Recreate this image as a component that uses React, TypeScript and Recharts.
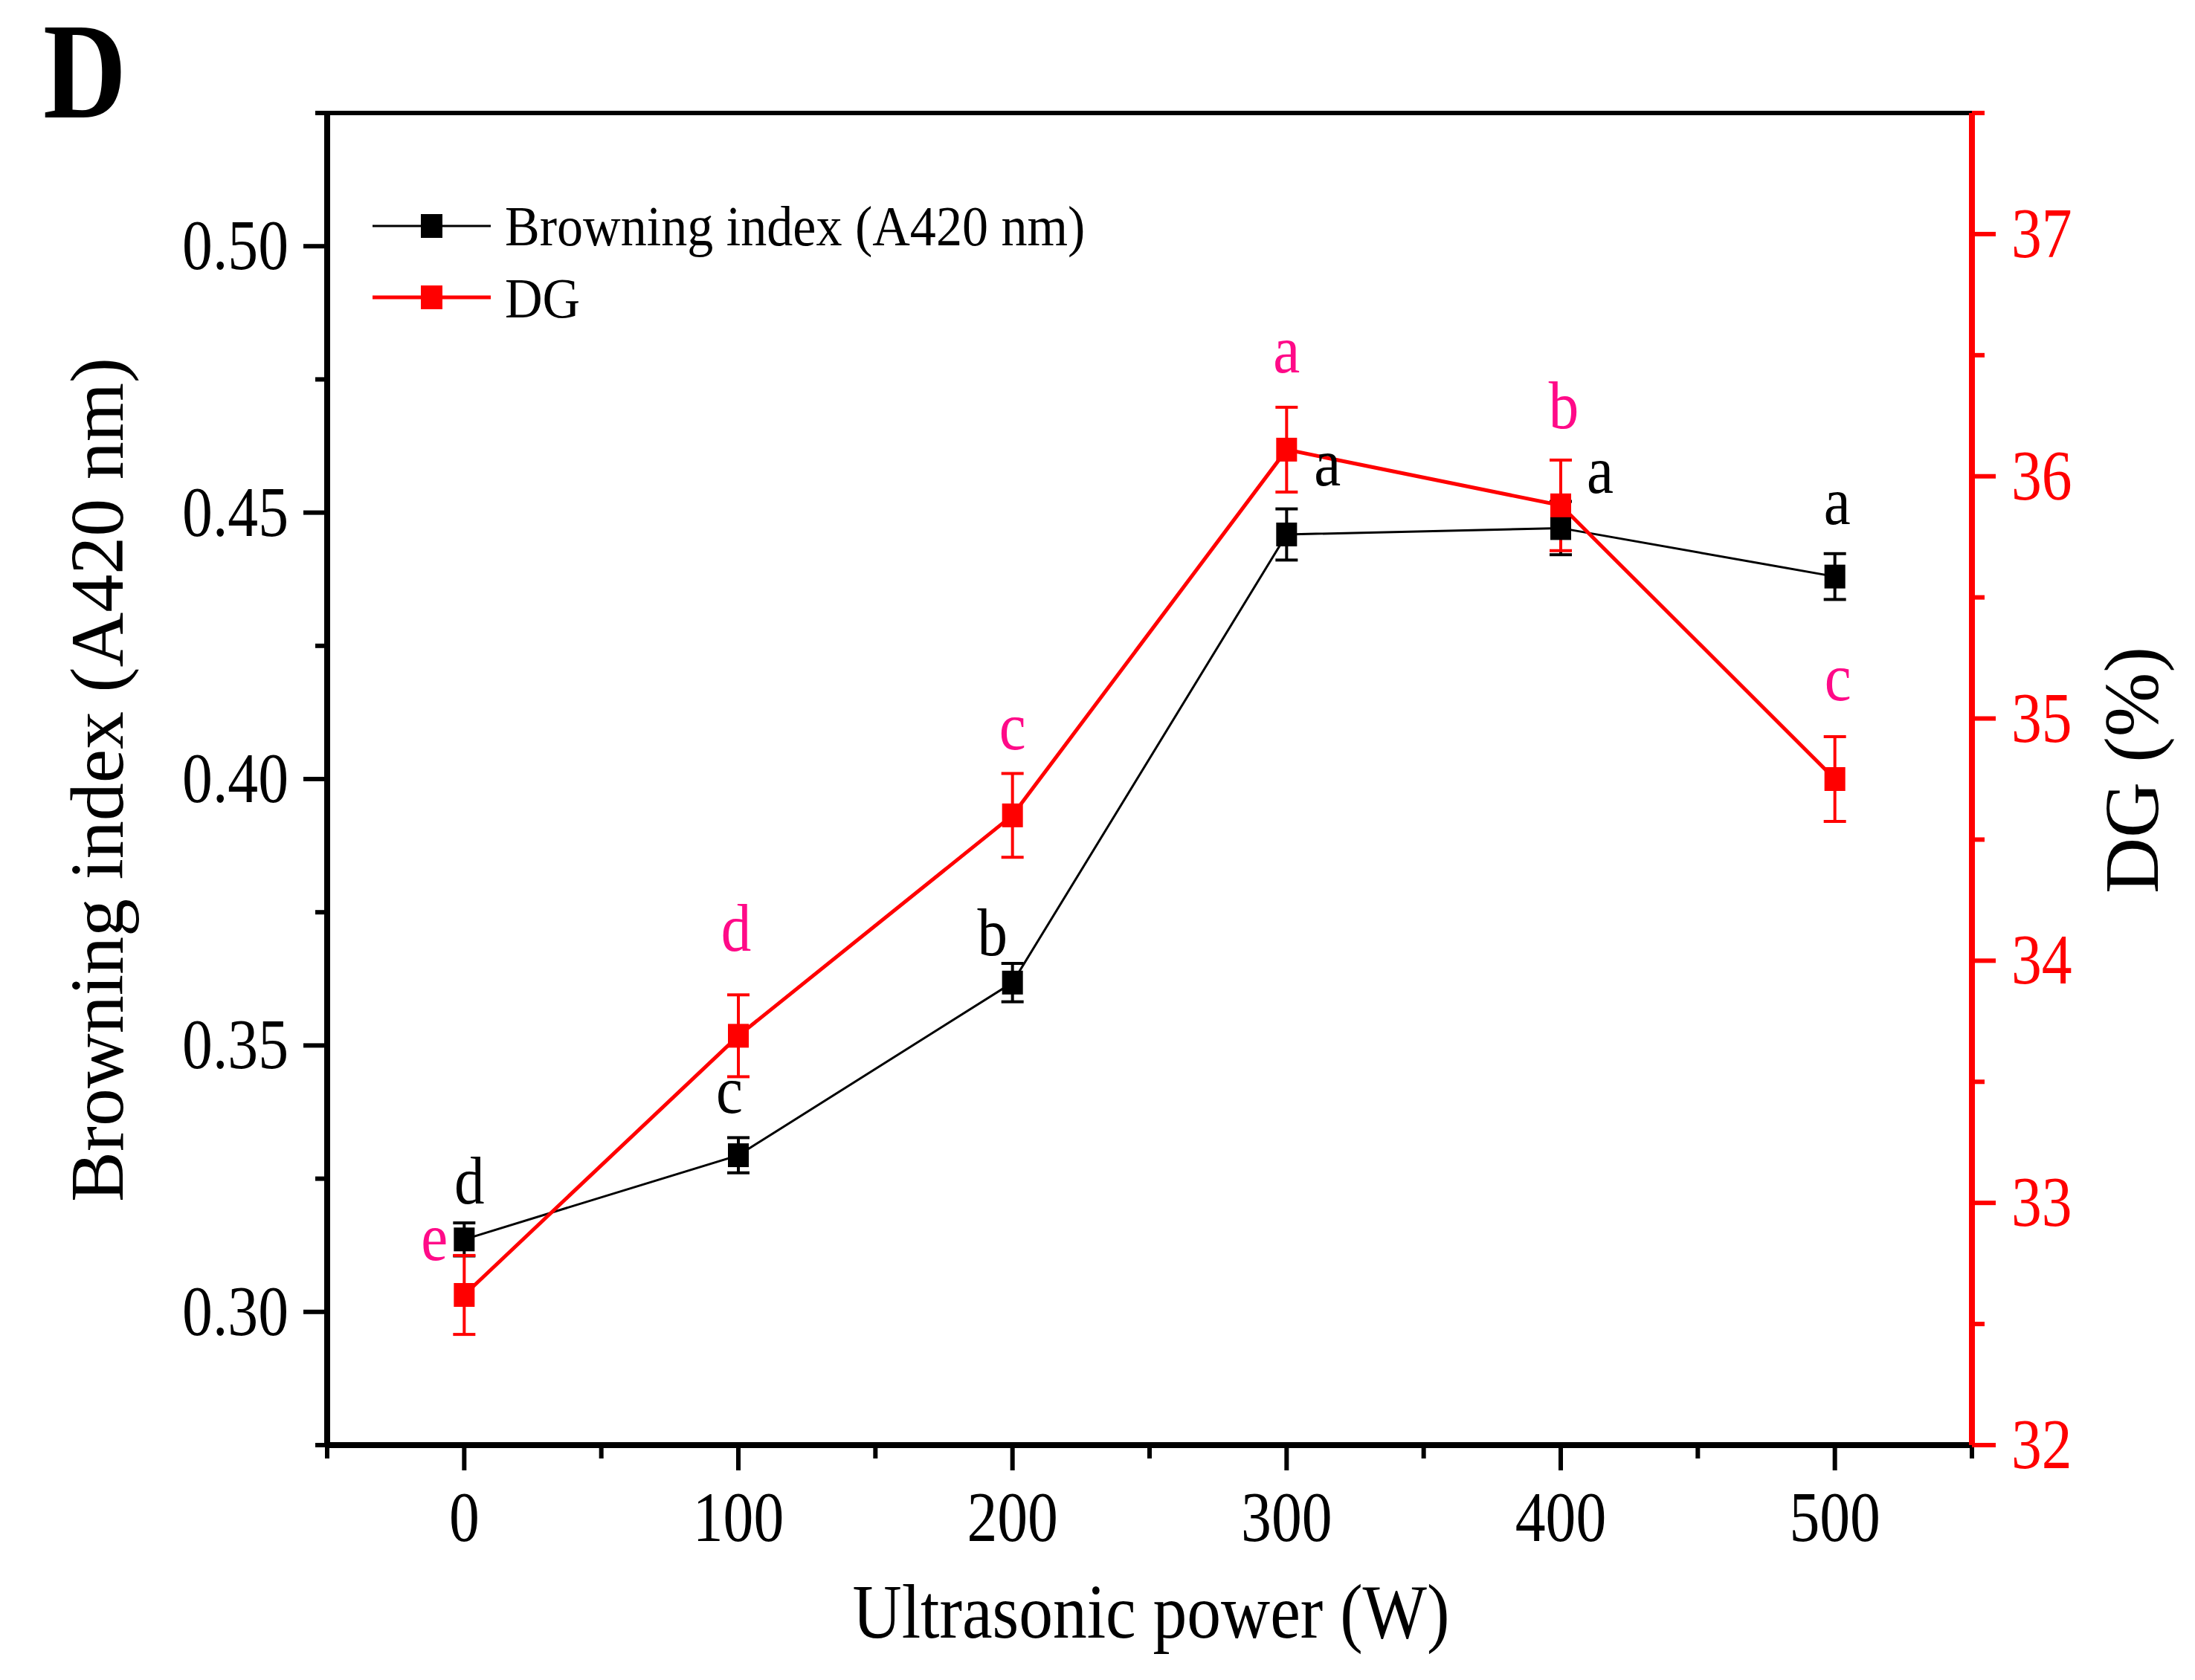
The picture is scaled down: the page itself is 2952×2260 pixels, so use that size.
import React from "react";
import {
  ComposedChart,
  Line,
  XAxis,
  YAxis,
  ErrorBar,
  ReferenceLine,
  LabelList,
  Customized,
} from "recharts";

const powers = [0, 100, 200, 300, 400, 500];
const browning = [0.3136, 0.3294, 0.3618, 0.4459, 0.4471, 0.438];
const browningErr = [0.0031, 0.0033, 0.0036, 0.0048, 0.005, 0.0043];
const dg = [32.62, 33.69, 34.6, 36.11, 35.88, 34.75];
const dgErr = [0.163, 0.169, 0.173, 0.175, 0.187, 0.175];
const browningLetters = ["d", "c", "b", "a", "a", "a"];
const dgLetters = ["e", "d", "c", "a", "b", "c"];

const xTicks = [-50, 0, 50, 100, 150, 200, 250, 300, 350, 400, 450, 500, 550];
const leftTicks = [0.275, 0.3, 0.325, 0.35, 0.375, 0.4, 0.425, 0.45, 0.475, 0.5, 0.525];
const rightTicks = [32, 32.5, 33, 33.5, 34, 34.5, 35, 35.5, 36, 36.5, 37, 37.5];

// label placement (px from marker centre to label baseline)
const browningLabelPos = [[7, -48], [-12, -57], [-27, -37], [55, -66], [53, -47], [3, -71]];
const dgLabelPos = [[-40, -47], [-3, -114], [0, -89], [0, -104], [4, -104], [4, -106]];

const FONT = "'Liberation Serif', 'Times New Roman', serif";
const RED = "#FF0000";
const PINK = "#FF0A88";

const data = powers.map((p, i) => ({
  power: p,
  browning: browning[i],
  browningErr: browningErr[i],
  dg: dg[i],
  dgErr: dgErr[i],
  bLetter: browningLetters[i],
  dLetter: dgLetters[i],
}));

function XTick({ x, y, payload }: any) {
  const v = payload.value;
  const major = v % 100 === 0;
  return (
    <g>
      <line x1={x} x2={x} y1={y} y2={y + (major ? 34 : 18)} stroke="#000" strokeWidth={6} />
      {major && (
        <text
          transform={`translate(${x},${y + 129}) scale(0.86,1)`}
          textAnchor="middle"
          fontSize={95}
          fontFamily={FONT}
          fill="#000"
        >
          {v}
        </text>
      )}
    </g>
  );
}

function LeftTick({ x, y, payload }: any) {
  const v = payload.value;
  const major = Math.round(v * 1000) % 50 === 0;
  return (
    <g>
      <line x1={x} x2={x - (major ? 32 : 16)} y1={y} y2={y} stroke="#000" strokeWidth={6} />
      {major && (
        <text
          transform={`translate(${x - 52},${y + 31}) scale(0.86,1)`}
          textAnchor="end"
          fontSize={95}
          fontFamily={FONT}
          fill="#000"
        >
          {v.toFixed(2)}
        </text>
      )}
    </g>
  );
}

function RightTick({ x, y, payload }: any) {
  const v = payload.value;
  const major = Number.isInteger(v);
  return (
    <g>
      <line x1={x} x2={x + (major ? 32 : 17)} y1={y} y2={y} stroke={RED} strokeWidth={6} />
      {major && (
        <text
          transform={`translate(${x + 53},${y + 31}) scale(0.86,1)`}
          textAnchor="start"
          fontSize={95}
          fontFamily={FONT}
          fill={RED}
        >
          {v}
        </text>
      )}
    </g>
  );
}

const squareDot = (fill: string) => (p: any) => (
  <rect key={`sq-${fill}-${p.index}`} x={p.cx - 14} y={p.cy - 16} width={28} height={32} fill={fill} />
);

const letterLabel = (pos: number[][], fill: string) => (p: any) => {
  const [dx, dy] = pos[p.index];
  return (
    <text
      key={`lb-${fill}-${p.index}`}
      transform={`translate(${p.x + dx},${p.y + dy}) scale(0.9,1)`}
      textAnchor="middle"
      fontSize={90}
      fontFamily={FONT}
      fill={fill}
    >
      {p.value}
    </text>
  );
};

function Decorations() {
  return (
    <g fontFamily={FONT}>
      <text
        x={58}
        y={158}
        fontSize={184}
        fontWeight="bold"
        fill="#000"
        textLength={112}
        lengthAdjust="spacingAndGlyphs"
      >
        D
      </text>

      {/* legend */}
      <line x1={501} x2={660} y1={304} y2={304} stroke="#000" strokeWidth={3} />
      <rect x={566} y={288} width={29} height={32} fill="#000" />
      <text transform="translate(679,330) scale(0.91,1)" fontSize={77} fill="#000">
        Browning index (A420 nm)
      </text>
      <line x1={501} x2={660} y1={400} y2={400} stroke={RED} strokeWidth={5} />
      <rect x={566} y={384} width={29} height={32} fill={RED} />
      <text transform="translate(679,427) scale(0.91,1)" fontSize={77} fill="#000">
        DG
      </text>

      {/* axis titles */}
      <text transform="translate(1548,2203) scale(0.88,1)" textAnchor="middle" fontSize={104} fill="#000">
        Ultrasonic power (W)
      </text>
      <text transform="translate(165,1049) rotate(-90)" textAnchor="middle" fontSize={102} fill="#000">
        Browning index (A420 nm)
      </text>
      <text transform="translate(2902,1036) rotate(-90)" textAnchor="middle" fontSize={104} fill="#000">
        DG (%)
      </text>
    </g>
  );
}

export default function App() {
  return (
    <div style={{ position: "absolute", left: 0, top: 0, width: 2952, height: 2260, background: "#fff" }}>
      <ComposedChart
        width={2952}
        height={2260}
        data={data}
        margin={{ top: 152, right: 0, bottom: 0, left: 0 }}
      >
        <XAxis
          dataKey="power"
          type="number"
          domain={[-50, 550]}
          ticks={xTicks}
          interval={0}
          allowDataOverflow
          height={316}
          tickLine={false}
          tickSize={0}
          tickMargin={0}
          axisLine={{ stroke: "#000", strokeWidth: 8 }}
          tick={<XTick />}
        />
        <YAxis
          yAxisId="left"
          type="number"
          domain={[0.275, 0.525]}
          ticks={leftTicks}
          interval={0}
          allowDataOverflow
          width={440}
          tickLine={false}
          tickSize={0}
          tickMargin={0}
          axisLine={{ stroke: "#000", strokeWidth: 8 }}
          tick={<LeftTick />}
        />
        <YAxis
          yAxisId="right"
          orientation="right"
          type="number"
          domain={[32, 37.5]}
          ticks={rightTicks}
          interval={0}
          allowDataOverflow
          width={300}
          tickLine={false}
          tickSize={0}
          tickMargin={0}
          axisLine={{ stroke: RED, strokeWidth: 8 }}
          tick={<RightTick />}
        />

        <ReferenceLine yAxisId="left" y={0.525} stroke="#000" strokeWidth={6} />

        <Line
          yAxisId="left"
          dataKey="browning"
          stroke="#000"
          strokeWidth={3}
          dot={squareDot("#000")}
          activeDot={false}
          isAnimationActive={false}
        >
          <ErrorBar dataKey="browningErr" direction="y" width={15} strokeWidth={4} stroke="#000" />
          <LabelList dataKey="bLetter" content={letterLabel(browningLabelPos, "#000")} />
        </Line>

        <Line
          yAxisId="right"
          dataKey="dg"
          stroke={RED}
          strokeWidth={5}
          dot={squareDot(RED)}
          activeDot={false}
          isAnimationActive={false}
        >
          <ErrorBar dataKey="dgErr" direction="y" width={15} strokeWidth={4} stroke={RED} />
          <LabelList dataKey="dLetter" content={letterLabel(dgLabelPos, PINK)} />
        </Line>

        <Customized component={Decorations} />
      </ComposedChart>
    </div>
  );
}
